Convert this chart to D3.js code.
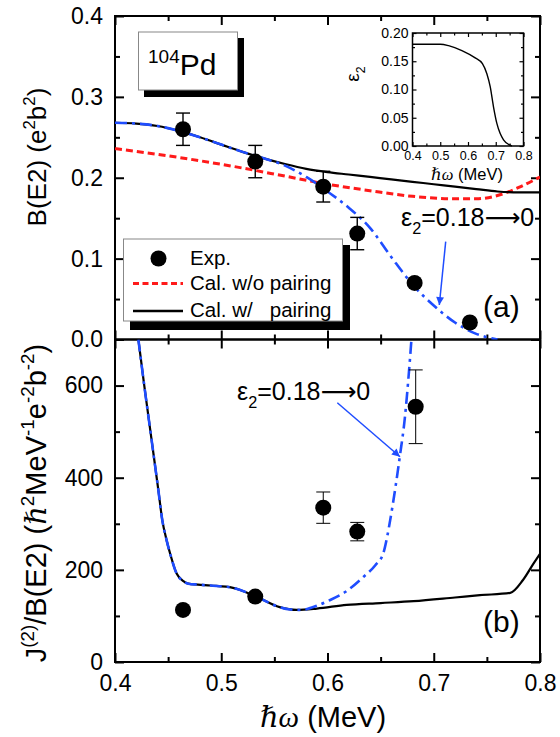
<!DOCTYPE html>
<html>
<head>
<meta charset="utf-8">
<script src="https://cdn.jsdelivr.net/npm/d3@7"></script>
<style>
  body { margin: 0; background: #fff; }
  svg { display: block; font-family: "Liberation Sans", Arial, sans-serif; }
</style>
</head>
<body>
<script>
// ---- data ----
// experiment
var expX      = [0.464, 0.532, 0.596, 0.628, 0.682, 0.734];
var expBE2    = [0.260, 0.220, 0.189, 0.131, 0.070, 0.021];
var expBE2Err = [0.020, 0.020, 0.019, 0.020, 0, 0];
var expJX     = [0.464, 0.532, 0.596, 0.628, 0.683];
var expJ      = [113, 142, 335, 283, 554];
var expJErr   = [0, 0, 34, 20, 80];

// B(E2) calculations
var wPairX   = [0.40, 0.42, 0.44, 0.46, 0.48, 0.50, 0.52, 0.54, 0.56, 0.58, 0.60, 0.62, 0.64, 0.66, 0.68, 0.70, 0.72, 0.74, 0.76, 0.78, 0.80];
var wPairBE2 = [0.268, 0.267, 0.264, 0.258, 0.250, 0.241, 0.232, 0.224, 0.217, 0.211, 0.207, 0.204, 0.201, 0.198, 0.195, 0.192, 0.189, 0.186, 0.183, 0.182, 0.182];
var woPairX   = [0.40, 0.44, 0.48, 0.52, 0.56, 0.60, 0.64, 0.68, 0.72, 0.74, 0.76, 0.78, 0.80];
var woPairBE2 = [0.236, 0.229, 0.221, 0.212, 0.202, 0.192, 0.184, 0.177, 0.174, 0.174, 0.178, 0.188, 0.201];
var defX   = [0.40, 0.42, 0.44, 0.46, 0.48, 0.50, 0.52, 0.54, 0.56, 0.58, 0.60, 0.62, 0.64, 0.66, 0.68, 0.70, 0.72, 0.74, 0.76];
var defBE2 = [0.268, 0.267, 0.264, 0.258, 0.250, 0.241, 0.232, 0.224, 0.215, 0.201, 0.183, 0.163, 0.138, 0.102, 0.068, 0.042, 0.021, 0.007, 0.0];

// J(2)/B(E2) calculations
var jPairX = [0.422, 0.4273, 0.4345, 0.4408, 0.4445, 0.4486, 0.4518, 0.458, 0.464, 0.469, 0.478, 0.49, 0.511, 0.532, 0.555, 0.571, 0.59, 0.618, 0.65, 0.681, 0.72, 0.7435, 0.772, 0.784, 0.794, 0.80];
var jPair  = [700, 604, 481, 373, 308, 264, 236, 192, 176, 170, 168, 166, 161, 143, 119, 113, 116, 124, 128, 132, 140, 145, 150, 178, 214, 235];
var jDefX = [0.422, 0.4273, 0.4345, 0.4408, 0.4445, 0.4486, 0.4518, 0.458, 0.464, 0.469, 0.478, 0.49, 0.511, 0.532, 0.555, 0.565, 0.575, 0.59, 0.602, 0.618, 0.634, 0.645, 0.6525, 0.656, 0.659, 0.664, 0.668, 0.6729, 0.676, 0.679];
var jDef  = [700, 604, 481, 373, 308, 264, 236, 192, 176, 170, 168, 166, 161, 143, 119, 114, 113, 122, 134, 154, 185, 210, 236, 270, 308, 380, 445, 532, 611, 700];

// inset: deformation
var insetX   = [0.40, 0.45, 0.50, 0.53, 0.578, 0.626, 0.652, 0.668, 0.68, 0.692, 0.704, 0.716, 0.728, 0.746, 0.758];
var insetEps = [0.180, 0.180, 0.180, 0.1776, 0.169, 0.156, 0.146, 0.128, 0.105, 0.069, 0.040, 0.022, 0.011, 0.003, 0.0];

var topTicks = [0, 0.1, 0.2, 0.3, 0.4];
var botTicks = [0, 200, 400, 600];
var xTicks = [0.4, 0.5, 0.6, 0.7, 0.8];
var insetTicks = [0, 0.05, 0.1, 0.15, 0.2];

var svg = d3.select("body").append("svg").attr("width", 560).attr("height", 737);

var x = d3.scaleLinear().domain([0.4, 0.8]).range([115, 540]);
var yTop = d3.scaleLinear().domain([0, 0.4]).range([339.5, 16]);
var yBot = d3.scaleLinear().domain([0, 700]).range([662, 339.5]);

var BLUE = "#1f4dff", RED = "#ff1a1a";

// text with sub/superscripts
function rich(sel, fs, parts) {
  var off = 0;
  parts.forEach(function(p) {
    var target = p[1] === "sup" ? -0.42 * fs : p[1] === "sub" ? 0.3 * fs : 0;
    var ts = sel.append("tspan").text(p[0]).attr("dy", target - off);
    off = target;
    if (p[1] === "sup" || p[1] === "sub") ts.attr("font-size", 0.65 * fs);
    if (p[1] === "it") ts.attr("font-family", "'Liberation Serif', 'DejaVu Serif', serif").attr("font-style", "italic");
    if (p[1] === "arrow") ts.attr("font-family", "'DejaVu Sans', sans-serif");
  });
}

var defs = svg.append("defs");
defs.append("clipPath").attr("id", "clipTop").append("rect")
  .attr("x", x(0.4)).attr("y", yTop(0.4)).attr("width", x(0.8) - x(0.4)).attr("height", yTop(0) - yTop(0.4));
defs.append("clipPath").attr("id", "clipBot").append("rect")
  .attr("x", x(0.4)).attr("y", yBot(700)).attr("width", x(0.8) - x(0.4)).attr("height", yBot(0) - yBot(700));
defs.append("marker").attr("id", "arr").attr("viewBox", "0 0 10 10")
  .attr("refX", 10).attr("refY", 5).attr("markerUnits", "userSpaceOnUse")
  .attr("markerWidth", 11).attr("markerHeight", 8).attr("orient", "auto")
  .append("path").attr("d", "M0,0L10,5L0,10z").attr("fill", BLUE);

function styler(fs, sw) {
  return function(g) {
    g.select(".domain").remove();
    g.selectAll("line").attr("stroke", "#000").attr("stroke-width", sw);
    g.selectAll("text").attr("font-size", fs).attr("fill", "#000").attr("font-family", "'Liberation Sans', Arial, sans-serif");
  };
}

// y axes on both sides, ticks pointing inward
function yAxes(yS, xs, major, minor, fmt, fs, tl, tlm, pad) {
  var x0 = xs.range()[0], x1 = xs.range()[1];
  var st = styler(fs, tl > 5 ? 2 : 1.2);
  svg.append("g").attr("transform", "translate(" + x0 + ",0)")
    .call(d3.axisLeft(yS).tickValues(major).tickSize(-tl).tickPadding(pad).tickFormat(fmt)).call(st);
  svg.append("g").attr("transform", "translate(" + x0 + ",0)")
    .call(d3.axisLeft(yS).tickValues(minor).tickSize(-tlm).tickFormat("")).call(st);
  svg.append("g").attr("transform", "translate(" + x1 + ",0)")
    .call(d3.axisRight(yS).tickValues(major).tickSize(-tl).tickFormat("")).call(st);
  svg.append("g").attr("transform", "translate(" + x1 + ",0)")
    .call(d3.axisRight(yS).tickValues(minor).tickSize(-tlm).tickFormat("")).call(st);
}
// x axes at bottom and top of a panel
function xAxes(xs, major, minor, yBottom, yTopEdge, labels, fs, tl, tlm, pad) {
  var st = styler(fs, tl > 5 ? 2 : 1.2);
  svg.append("g").attr("transform", "translate(0," + yBottom + ")")
    .call(d3.axisBottom(xs).tickValues(major).tickSize(-tl).tickPadding(pad).tickFormat(labels ? d3.format(".1f") : "")).call(st);
  svg.append("g").attr("transform", "translate(0," + yBottom + ")")
    .call(d3.axisBottom(xs).tickValues(minor).tickSize(-tlm).tickFormat("")).call(st);
  svg.append("g").attr("transform", "translate(0," + yTopEdge + ")")
    .call(d3.axisTop(xs).tickValues(major).tickSize(-tl).tickFormat("")).call(st);
  svg.append("g").attr("transform", "translate(0," + yTopEdge + ")")
    .call(d3.axisTop(xs).tickValues(minor).tickSize(-tlm).tickFormat("")).call(st);
}

var xMinor = [0.45, 0.55, 0.65, 0.75];
yAxes(yTop, x, topTicks, [0.05, 0.15, 0.25, 0.35], d3.format(".1f"), 23, 9, 5, 12);
yAxes(yBot, x, botTicks, [100, 300, 500], d3.format("d"), 23, 9, 5, 12);
xAxes(x, xTicks, xMinor, yTop(0), yTop(0.4), false, 23, 9, 5, 12);
xAxes(x, xTicks, xMinor, yBot(0), yBot(700), true, 23, 9, 5, 13);

// frames
[[yTop(0.4), yTop(0)], [yBot(700), yBot(0)]].forEach(function(r) {
  svg.append("rect").attr("x", x(0.4)).attr("y", r[0]).attr("width", x(0.8) - x(0.4)).attr("height", r[1] - r[0])
    .attr("fill", "none").attr("stroke", "#000").attr("stroke-width", 2);
});

function line(xs, ys, sx, sy) {
  return d3.line().curve(d3.curveMonotoneX)
    .x(function(d) { return sx(d[0]); }).y(function(d) { return sy(d[1]); })(d3.zip(xs, ys));
}

// ---- top panel curves ----
var gt = svg.append("g").attr("clip-path", "url(#clipTop)");
gt.append("path").attr("d", line(woPairX, woPairBE2, x, yTop)).attr("fill", "none").attr("stroke", RED)
  .attr("stroke-width", 3).attr("stroke-dasharray", "7,4");
gt.append("path").attr("d", line(wPairX, wPairBE2, x, yTop)).attr("fill", "none").attr("stroke", "#000").attr("stroke-width", 2.2);
gt.append("path").attr("d", line(defX, defBE2, x, yTop)).attr("fill", "none").attr("stroke", BLUE)
  .attr("stroke-width", 2.6).attr("stroke-dasharray", "12,5,3,5");

// ---- bottom panel curves ----
var gb = svg.append("g").attr("clip-path", "url(#clipBot)");
gb.append("path").attr("d", line(jPairX, jPair, x, yBot)).attr("fill", "none").attr("stroke", "#000").attr("stroke-width", 2.2);
gb.append("path").attr("d", line(jDefX, jDef, x, yBot)).attr("fill", "none").attr("stroke", BLUE)
  .attr("stroke-width", 2.6).attr("stroke-dasharray", "12,5,3,5");

// experimental points
function points(xs, ys, es, sy, errW) {
  var g = svg.append("g");
  var d = d3.zip(xs, ys, es);
  d.filter(function(p) { return p[2] > 0; }).forEach(function(p) {
    var cx = x(p[0]);
    g.append("line").attr("x1", cx).attr("x2", cx).attr("y1", sy(p[1] - p[2])).attr("y2", sy(p[1] + p[2]))
      .attr("stroke", "#000").attr("stroke-width", errW);
    [p[1] - p[2], p[1] + p[2]].forEach(function(v) {
      g.append("line").attr("x1", cx - 7).attr("x2", cx + 7).attr("y1", sy(v)).attr("y2", sy(v))
        .attr("stroke", "#000").attr("stroke-width", errW);
    });
  });
  g.selectAll("circle").data(d).enter().append("circle")
    .attr("cx", function(p) { return x(p[0]); }).attr("cy", function(p) { return sy(p[1]); })
    .attr("r", 8).attr("fill", "#000");
}
points(expX, expBE2, expBE2Err, yTop, 1.4);
points(expJX, expJ, expJErr, yBot, 1);

// annotations
var annot = [["ε", ""], ["2", "sub"], ["=0.18", ""], ["⟶", "arrow"], ["0", ""]];
var t1 = svg.append("text").attr("x", 401).attr("y", 226).attr("font-size", 25);
rich(t1, 25, annot);
svg.append("line").attr("x1", 445.7).attr("y1", 241.7).attr("x2", 439.3).attr("y2", 305)
  .attr("stroke", BLUE).attr("stroke-width", 1.5).attr("marker-end", "url(#arr)");
var t2 = svg.append("text").attr("x", 237).attr("y", 400).attr("font-size", 25);
rich(t2, 25, annot);
svg.append("line").attr("x1", 337.3).attr("y1", 402.7).attr("x2", 400).attr("y2", 456.7)
  .attr("stroke", BLUE).attr("stroke-width", 1.5).attr("marker-end", "url(#arr)");

svg.append("text").attr("x", 483).attr("y", 317).attr("font-size", 30).text("(a)");
svg.append("text").attr("x", 483).attr("y", 632).attr("font-size", 30).text("(b)");

// nucleus label box
svg.append("rect").attr("x", 144).attr("y", 38).attr("width", 100).attr("height", 59).attr("fill", "#000");
svg.append("rect").attr("x", 138.5).attr("y", 32).attr("width", 99).attr("height", 58).attr("fill", "#fff").attr("stroke", "#888").attr("stroke-width", 1);
var tn = svg.append("text").attr("x", 148).attr("y", 75).attr("font-size", 30);
tn.append("tspan").attr("font-size", 19).attr("dy", -12).text("104");
tn.append("tspan").attr("dy", 12).text("Pd");

// legend
svg.append("rect").attr("x", 130).attr("y", 245).attr("width", 220).attr("height", 85).attr("fill", "#000");
svg.append("rect").attr("x", 123.5).attr("y", 239).attr("width", 219).attr("height", 82).attr("fill", "#fff").attr("stroke", "#888").attr("stroke-width", 1);
svg.append("circle").attr("cx", 158.5).attr("cy", 258.5).attr("r", 8).attr("fill", "#000");
svg.append("line").attr("x1", 133).attr("x2", 183).attr("y1", 283.5).attr("y2", 283.5).attr("stroke", RED).attr("stroke-width", 3).attr("stroke-dasharray", "6,3.5");
svg.append("line").attr("x1", 133).attr("x2", 183).attr("y1", 311).attr("y2", 311).attr("stroke", "#000").attr("stroke-width", 2.5);
var legTexts = ["Exp.", "Cal. w/o pairing", "Cal. w/   pairing"];
var legY = [265, 290, 317];
legTexts.forEach(function(s, i) {
  svg.append("text").attr("x", 190).attr("y", legY[i]).attr("font-size", 20.5).style("white-space", "pre").text(s);
});

// axis titles
var yt1 = svg.append("text").attr("transform", "translate(46,157) rotate(-90)").attr("text-anchor", "middle").attr("font-size", 26);
rich(yt1, 26, [["B(E2) (e", ""], ["2", "sup"], ["b", ""], ["2", "sup"], [")", ""]]);
var yt2 = svg.append("text").attr("transform", "translate(46,503) rotate(-90)").attr("text-anchor", "middle").attr("font-size", 29);
rich(yt2, 29, [["J", ""], ["(2)", "sup"], ["/B(E2) (", ""], ["ℏ", "it"], ["2", "sup"], ["MeV", ""], ["-1", "sup"], ["e", ""], ["-2", "sup"], ["b", ""], ["-2", "sup"], [")", ""]]);
var xt = svg.append("text").attr("x", 323).attr("y", 727).attr("text-anchor", "middle").attr("font-size", 29);
rich(xt, 29, [["ℏω", "it"], [" (MeV)", ""]]);

// ---- inset ----
var xi = d3.scaleLinear().domain([0.4, 0.8]).range([412.5, 523.5]);
var yi = d3.scaleLinear().domain([0, 0.2]).range([146, 33]);
svg.append("rect").attr("x", 412.5).attr("y", 33).attr("width", 111).attr("height", 113).attr("fill", "#fff");
yAxes(yi, xi, insetTicks, [0.025, 0.075, 0.125, 0.175], d3.format(".2f"), 14, 4, 2.5, 4);
xAxes(xi, xTicks, xMinor, yi(0), yi(0.2), true, 12.5, 4, 2.5, 5);
svg.append("rect").attr("x", 412.5).attr("y", 33).attr("width", 111).attr("height", 113)
  .attr("fill", "none").attr("stroke", "#000").attr("stroke-width", 1.5);
svg.append("path").attr("d", line(insetX, insetEps, xi, yi))
  .attr("fill", "none").attr("stroke", "#000").attr("stroke-width", 1.4);
var it1 = svg.append("text").attr("x", 467).attr("y", 180).attr("text-anchor", "middle").attr("font-size", 16.5);
rich(it1, 16.5, [["ℏω", "it"], [" (MeV)", ""]]);
var it2 = svg.append("text").attr("transform", "translate(359,74) rotate(-90)").attr("text-anchor", "middle").attr("font-size", 19);
rich(it2, 19, [["ε", ""], ["2", "sub"]]);
</script>
</body>
</html>
